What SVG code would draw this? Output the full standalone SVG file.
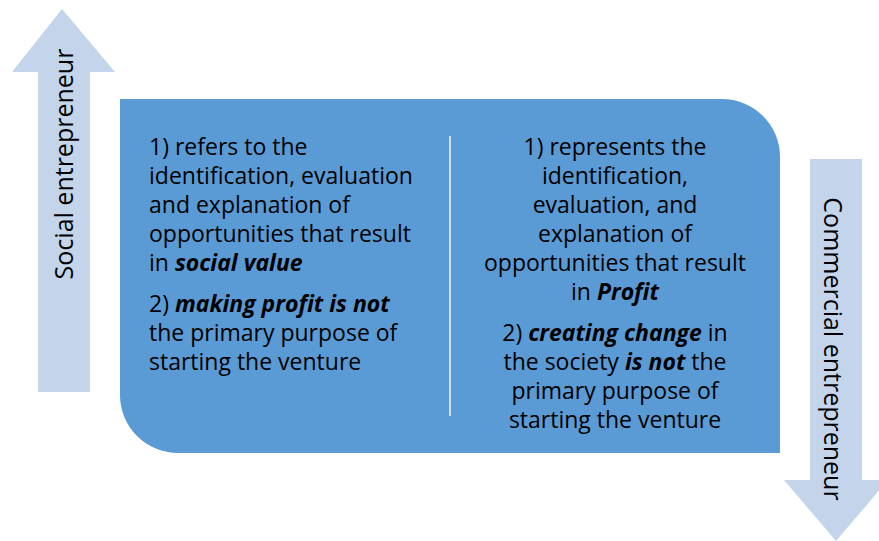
<svg xmlns="http://www.w3.org/2000/svg" width="879" height="541" viewBox="0 0 879 541">
<style>
.arrow{fill:#C3D4EB}
.t{font-family:"Open Sans","Liberation Sans",sans-serif;font-size:23px;fill:#000}
.v{font-size:25px}
.c{text-anchor:middle}
.bi{font-weight:bold;font-style:italic}
</style>
<rect width="879" height="541" fill="#fff"/>
<g id="social-arrow">
<polygon class="arrow" points="62,9 115,72 90,72 90,392 38,392 38,72 12,72"/>
<text class="t v" transform="translate(73,164) rotate(-90)" text-anchor="middle">Social entrepreneur</text>
</g>
<g id="commercial-arrow">
<polygon class="arrow" points="810,159 862,159 862,480 888,480 836,541 784,480 810,480"/>
<text class="t v" transform="translate(824,349) rotate(90)" text-anchor="middle">Commercial entrepreneur</text>
</g>
<g id="main-box">
<path d="M120,99 H722 A58,58 0 0 1 780,157 V453 H178 A58,58 0 0 1 120,395 Z" fill="#5B9BD5"/>
<line x1="450" y1="136" x2="450" y2="416" stroke="#D2E0F2" stroke-width="2"/>
</g>
<g id="social-text" class="t">
<text x="149" y="155">1) refers to the</text>
<text x="149" y="184">identification, evaluation</text>
<text x="149" y="213">and explanation of</text>
<text x="149" y="242">opportunities that result</text>
<text x="149" y="271">in <tspan class="bi">social value</tspan></text>
<text x="149" y="312">2) <tspan class="bi">making profit is not</tspan></text>
<text x="149" y="341">the primary purpose of</text>
<text x="149" y="370">starting the venture</text>
</g>
<g id="commercial-text" class="t c">
<text x="615" y="155">1) represents the</text>
<text x="615" y="184">identification,</text>
<text x="615" y="213">evaluation, and</text>
<text x="615" y="242">explanation of</text>
<text x="615" y="271">opportunities that result</text>
<text x="615" y="300">in <tspan class="bi">Profit</tspan></text>
<text x="615" y="341">2) <tspan class="bi">creating change</tspan> in</text>
<text x="615" y="370">the society <tspan class="bi">is not</tspan> the</text>
<text x="615" y="399">primary purpose of</text>
<text x="615" y="428">starting the venture</text>
</g>
</svg>
